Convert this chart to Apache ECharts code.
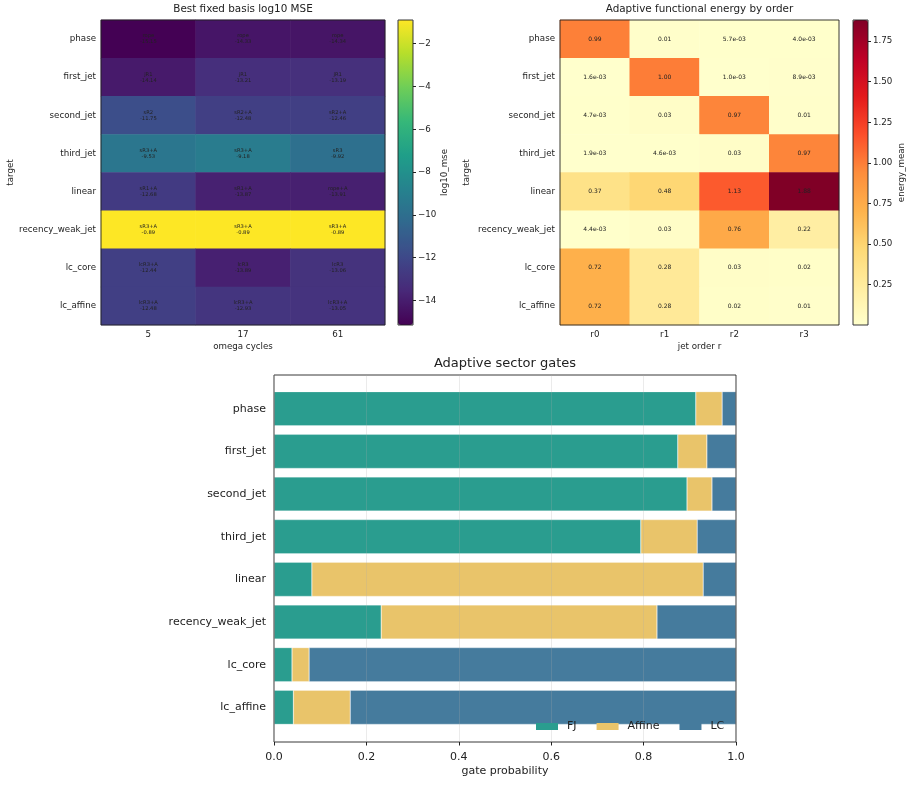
<!DOCTYPE html>
<html>
<head>
<meta charset="utf-8">
<script src="https://cdn.jsdelivr.net/npm/echarts@6/dist/echarts.min.js"></script>
<style>
  html, body { margin: 0; padding: 0; background: #fff; }
  #chart { width: 913px; height: 802px; }
</style>
</head>
<body>
<div id="chart"></div>
<script>
// targets, top to bottom
const targets = ["phase", "first_jet", "second_jet", "third_jet", "linear",
  "recency_weak_jet", "lc_core", "lc_affine"];

// best fixed basis per (target, omega cycles)
const omegaCycles = ["5", "17", "61"];
const bestBasis = [
  ["rope", "rope", "rope"],
  ["jR1", "jR1", "jR1"],
  ["sR2", "sR2+A", "sR2+A"],
  ["sR3+A", "sR3+A", "sR3"],
  ["sR1+A", "sR1+A", "rope+A"],
  ["sR3+A", "sR3+A", "sR3+A"],
  ["lcR3+A", "lcR3", "lcR3"],
  ["lcR3+A", "lcR3+A", "lcR3+A"]
];
const bestMse = [
  [-15.15, -14.33, -14.34],
  [-14.14, -13.21, -13.19],
  [-11.75, -12.48, -12.46],
  [-9.53, -9.18, -9.92],
  [-12.68, -13.87, -13.91],
  [-0.89, -0.89, -0.89],
  [-12.44, -13.89, -13.06],
  [-12.48, -12.93, -13.05]
];
const mseTicks = [-14, -12, -10, -8, -6, -4, -2];

// adaptive functional energy per (target, jet order)
const jetOrders = ["r0", "r1", "r2", "r3"];
const energy = [
  [0.99, 0.01, 0.0057, 0.0040],
  [0.0016, 1.00, 0.0010, 0.0089],
  [0.0047, 0.03, 0.97, 0.01],
  [0.0019, 0.0046, 0.03, 0.97],
  [0.37, 0.48, 1.13, 1.88],
  [0.0044, 0.03, 0.76, 0.22],
  [0.72, 0.28, 0.03, 0.02],
  [0.72, 0.28, 0.02, 0.01]
];
const energyTicks = [0.25, 0.5, 0.75, 1.0, 1.25, 1.5, 1.75];

// sector gate probabilities
const gateFJ = [0.913, 0.874, 0.894, 0.794, 0.082, 0.232, 0.039, 0.042];
const gateAffine = [0.057, 0.063, 0.054, 0.122, 0.847, 0.597, 0.037, 0.123];
const gateLC = [0.030, 0.063, 0.052, 0.084, 0.071, 0.171, 0.924, 0.835];

const viridis = ['#440154', '#482878', '#3e4989', '#31688e', '#26828e',
  '#1f9e89', '#35b779', '#6ece58', '#b5de2b', '#fde725'];
const ylOrRd = ['#ffffcc', '#ffeda0', '#fed976', '#feb24c', '#fd8d3c',
  '#fc4e2a', '#e31a1c', '#bd0026', '#800026'];

const FONT = "DejaVu Sans";
const INK = "#222";

const mseCells = [];
bestMse.forEach((row, y) => row.forEach((v, x) => mseCells.push([x, y, v])));
const energyCells = [];
energy.forEach((row, y) => row.forEach((v, x) => energyCells.push([x, y, v])));

const mseMin = Math.min(...bestMse.flat());
const mseMax = Math.max(...bestMse.flat());
const enMin = Math.min(...energy.flat());
const enMax = Math.max(...energy.flat());

const fmtEnergy = v => v < 0.01
  ? v.toExponential(1).replace(/e([+-])(\d)$/, "e$10$2")
  : v.toFixed(2);
const minus = s => String(s).replace("-", "\u2212");

// geometry
const H1 = { left: 101, top: 20, width: 284, height: 305 };
const C1 = { left: 398, top: 20, width: 15, height: 305 };
const H2 = { left: 560, top: 20, width: 279, height: 305 };
const C2 = { left: 853, top: 20, width: 15, height: 305 };
const FRAME = { left: 274, top: 375, width: 462, height: 367 };
const BAND = 42.66;
const BARS = { left: 274, top: 375 + 0.29 * BAND, width: 462, height: 8 * BAND };

const frameStyle = { show: true, borderColor: INK, borderWidth: 0.9,
  backgroundColor: "transparent", z: 5 };

function catX(gridIndex, data, name) {
  return {
    type: "category", gridIndex, data,
    axisLine: { show: false },
    axisTick: { alignWithLabel: true, length: 3, lineStyle: { color: INK } },
    axisLabel: { fontSize: 8.7, color: INK, fontFamily: FONT, margin: 5 },
    name, nameLocation: "middle", nameGap: 17,
    nameTextStyle: { fontSize: 8.7, color: INK, fontFamily: FONT }
  };
}
function catY(gridIndex, nameGap) {
  return {
    type: "category", gridIndex, data: targets, inverse: true,
    axisLine: { show: false },
    axisTick: { alignWithLabel: true, length: 3, lineStyle: { color: INK } },
    axisLabel: { fontSize: 8.7, color: INK, fontFamily: FONT, margin: 5 },
    name: "target", nameLocation: "middle", nameGap,
    nameTextStyle: { fontSize: 8.7, color: INK, fontFamily: FONT }
  };
}
function cbarY(gridIndex, min, max, ticks, fmt, name, nameGap) {
  return {
    type: "value", gridIndex, position: "right", min, max,
    axisLine: { show: false },
    splitLine: { show: false },
    axisTick: { show: true, length: 3, customValues: ticks, lineStyle: { color: INK } },
    axisLabel: { customValues: ticks, formatter: fmt, fontSize: 8.7, color: INK,
      fontFamily: FONT, margin: 5 },
    name, nameLocation: "middle", nameGap, nameRotate: 90,
    nameTextStyle: { fontSize: 8.7, color: INK, fontFamily: FONT }
  };
}
const hiddenCat = gridIndex => ({ type: "category", gridIndex, data: [""], show: false });

const titleText = (x, y, text, fontSize) => ({
  type: "text", x, y, silent: true,
  style: { text, fontSize, fill: INK, fontFamily: FONT,
    textAlign: "center", textVerticalAlign: "middle" }
});

const option = {
  animation: false,
  backgroundColor: "#fff",
  textStyle: { fontFamily: FONT },
  graphic: [
    titleText(H1.left + H1.width / 2, 9, "Best fixed basis log10 MSE", 10.4),
    titleText(H2.left + H2.width / 2, 9, "Adaptive functional energy by order", 10.4),
    titleText(FRAME.left + FRAME.width / 2, 364, "Adaptive sector gates", 13)
  ],
  grid: [
    Object.assign({}, H1, frameStyle),
    Object.assign({}, C1, frameStyle),
    Object.assign({}, H2, frameStyle),
    Object.assign({}, C2, frameStyle),
    Object.assign({}, FRAME, frameStyle),
    Object.assign({}, BARS)
  ],
  visualMap: [
    { type: "continuous", seriesIndex: 0, min: mseMin, max: mseMax,
      left: C1.left, top: C1.top, itemWidth: C1.width, itemHeight: C1.height,
      padding: 0, calculable: false, hoverLink: false,
      inRange: { color: viridis } },
    { type: "continuous", seriesIndex: 1, min: enMin, max: enMax,
      left: C2.left, top: C2.top, itemWidth: C2.width, itemHeight: C2.height,
      padding: 0, calculable: false, hoverLink: false,
      inRange: { color: ylOrRd } }
  ],
  legend: {
    data: ["FJ", "Affine", "LC"], z: 10,
    left: 536, top: 721, orient: "horizontal", padding: 0,
    icon: "rect", itemWidth: 22, itemHeight: 7, itemGap: 20,
    itemStyle: { borderWidth: 0 },
    textStyle: { fontSize: 11, color: INK, fontFamily: FONT, padding: [0, 0, 0, 4] }
  },
  xAxis: [
    catX(0, omegaCycles, "omega cycles"),
    hiddenCat(1),
    catX(2, jetOrders, "jet order r"),
    hiddenCat(3),
    {
      type: "value", gridIndex: 4, min: 0, max: 1, interval: 0.2, z: 6,
      axisLine: { show: false },
      axisTick: { show: true, length: 3.5, lineStyle: { color: INK } },
      axisLabel: { formatter: v => v.toFixed(1), fontSize: 11, color: INK,
        fontFamily: FONT, margin: 10 },
      splitLine: { show: true, lineStyle: { color: "rgba(170,170,170,0.3)", width: 0.8 } },
      name: "gate probability", nameLocation: "middle", nameGap: 24,
      nameTextStyle: { fontSize: 11, color: INK, fontFamily: FONT }
    },
    { type: "value", gridIndex: 5, min: 0, max: 1, show: false }
  ],
  yAxis: [
    catY(0, 86),
    cbarY(1, mseMin, mseMax, mseTicks, minus, "log10_mse", 27),
    catY(2, 89),
    cbarY(3, enMin, enMax, energyTicks, v => v.toFixed(2), "energy_mean", 29),
    { type: "value", gridIndex: 4, min: 0, max: 1, show: false },
    {
      type: "category", gridIndex: 5, data: targets, inverse: true,
      axisLine: { show: false },
      axisTick: { alignWithLabel: true, length: 3.5, lineStyle: { color: INK } },
      axisLabel: { fontSize: 11, color: INK, fontFamily: FONT, margin: 8 }
    }
  ],
  series: [
    {
      type: "heatmap", xAxisIndex: 0, yAxisIndex: 0, data: mseCells,
      label: { show: true, fontSize: 5.2, color: INK, fontFamily: FONT, lineHeight: 6,
        formatter: p => bestBasis[p.value[1]][p.value[0]] + "\n" + p.value[2].toFixed(2) }
    },
    {
      type: "heatmap", xAxisIndex: 2, yAxisIndex: 2, data: energyCells,
      label: { show: true, fontSize: 6, color: INK, fontFamily: FONT,
        formatter: p => fmtEnergy(p.value[2]) }
    },
    { name: "FJ", type: "bar", stack: "gate", xAxisIndex: 5, yAxisIndex: 5,
      data: gateFJ, barWidth: "80%",
      itemStyle: { color: "#2a9d8f", borderColor: "rgba(255,255,255,0.5)", borderWidth: 0.5 } },
    { name: "Affine", type: "bar", stack: "gate", xAxisIndex: 5, yAxisIndex: 5,
      data: gateAffine, barWidth: "80%",
      itemStyle: { color: "#e9c46a", borderColor: "rgba(255,255,255,0.5)", borderWidth: 0.5 } },
    { name: "LC", type: "bar", stack: "gate", xAxisIndex: 5, yAxisIndex: 5,
      data: gateLC, barWidth: "80%",
      itemStyle: { color: "#457b9d", borderColor: "rgba(255,255,255,0.5)", borderWidth: 0.5 } }
  ]
};

const chart = echarts.init(document.getElementById("chart"), null, { renderer: "canvas" });
chart.setOption(option);
</script>
</body>
</html>
